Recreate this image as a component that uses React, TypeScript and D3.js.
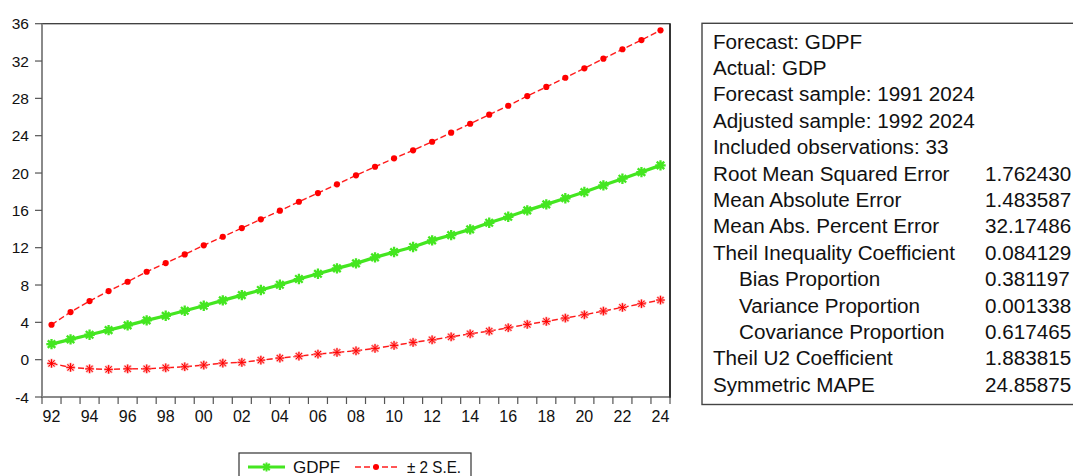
import React from 'react';
import * as d3 from 'd3';

// ---------- data ----------
const years = [
  1992, 1993, 1994, 1995, 1996, 1997, 1998, 1999, 2000, 2001, 2002,
  2003, 2004, 2005, 2006, 2007, 2008, 2009, 2010, 2011, 2012, 2013,
  2014, 2015, 2016, 2017, 2018, 2019, 2020, 2021, 2022, 2023, 2024,
];

const gdpf = [
  1.67, 2.17, 2.67, 3.17, 3.67, 4.21, 4.7, 5.24, 5.78, 6.35, 6.92,
  7.46, 8.03, 8.64, 9.2, 9.78, 10.32, 10.96, 11.53, 12.07, 12.78, 13.35,
  13.96, 14.67, 15.31, 16.0, 16.64, 17.29, 17.96, 18.68, 19.39, 20.1, 20.82,
];

const seUpper = [
  3.74, 5.1, 6.28, 7.35, 8.35, 9.42, 10.35, 11.28, 12.25, 13.17, 14.1,
  15.04, 15.96, 16.92, 17.85, 18.79, 19.75, 20.67, 21.57, 22.43, 23.35, 24.32,
  25.28, 26.25, 27.21, 28.25, 29.22, 30.21, 31.22, 32.25, 33.26, 34.25, 35.29,
];

const seLower = [
  -0.4, -0.83, -0.98, -1.04, -0.98, -0.98, -0.87, -0.76, -0.58, -0.37, -0.29,
  -0.05, 0.17, 0.38, 0.6, 0.78, 0.95, 1.21, 1.53, 1.85, 2.13, 2.45,
  2.77, 3.06, 3.42, 3.78, 4.1, 4.46, 4.81, 5.21, 5.6, 5.99, 6.39,
];

const yTicks = [-4, 0, 4, 8, 12, 16, 20, 24, 28, 32, 36];
const xLabelYears = [
  1992, 1994, 1996, 1998, 2000, 2002, 2004, 2006, 2008, 2010, 2012,
  2014, 2016, 2018, 2020, 2022, 2024,
];

const legendLabels = ['GDPF', '\u00B1 2 S.E.'];

const statLabels = [
  'Forecast: GDPF',
  'Actual: GDP',
  'Forecast sample: 1991 2024',
  'Adjusted sample: 1992 2024',
  'Included observations: 33',
  'Root Mean Squared Error',
  'Mean Absolute Error',
  'Mean Abs. Percent Error',
  'Theil Inequality Coefficient',
  'Bias Proportion',
  'Variance Proportion',
  'Covariance Proportion',
  'Theil U2 Coefficient',
  'Symmetric MAPE',
];
const statValues = [
  '', '', '', '', '',
  '1.762430', '1.483587', '32.17486', '0.084129',
  '0.381197', '0.001338', '0.617465', '1.883815', '24.85875',
];
const statIndent = [
  false, false, false, false, false, false, false, false, false,
  true, true, true, false, false,
];

const FONT = '"Liberation Sans", Arial, Helvetica, sans-serif';
const GREEN = '#44e620';
const RED = '#ff0000';

function asterisk(cx: number, cy: number, r: number): string {
  const d = r * 0.72;
  return (
    `M${cx - r},${cy}H${cx + r}` +
    `M${cx},${cy - r}V${cy + r}` +
    `M${cx - d},${cy - d}L${cx + d},${cy + d}` +
    `M${cx - d},${cy + d}L${cx + d},${cy - d}`
  );
}

export default function App() {
  const W = 1073;
  const H = 476;
  const plot = { l: 42, r: 670, t: 23.7, b: 397 };

  const x = d3.scaleBand<number>().domain(years).range([plot.l, plot.r]).padding(0);
  const bw = x.bandwidth();
  const cx = (yr: number) => (x(yr) as number) + bw / 2;
  const y = d3.scaleLinear().domain([-4, 36]).range([plot.b, plot.t]);

  const lineGen = d3
    .line<number>()
    .x((_, i) => cx(years[i]))
    .y((d) => y(d));

  const boundaries = years.map((yr) => x(yr) as number).concat([plot.r]);

  // stats box
  const box = { l: 702, t: 23.3, b: 404.5 };
  const rowBase0 = 48.5;
  const rowStep = 26.4;
  const sx = 1.06;

  return (
    <svg
      width={W}
      height={H}
      style={{ position: 'absolute', left: 0, top: 0, background: '#fff' }}
      fontFamily={FONT}
    >
      <rect x={0} y={0} width={W} height={H} fill="#fff" />

      {/* plot frame */}
      <rect
        x={plot.l}
        y={plot.t}
        width={plot.r - plot.l}
        height={plot.b - plot.t}
        fill="#fff"
        stroke="#3a3a3a"
        strokeWidth={1.3}
      />
      {/* left & bottom axes (gray) */}
      <line x1={plot.l} y1={plot.t} x2={plot.l} y2={plot.b + 1} stroke="#8a8a8a" strokeWidth={2} />
      <line x1={plot.l - 1} y1={plot.b} x2={plot.r} y2={plot.b} stroke="#8a8a8a" strokeWidth={2} />
      <line x1={plot.r} y1={plot.t} x2={plot.r} y2={plot.b + 1} stroke="#222" strokeWidth={1.6} />

      {/* y ticks */}
      {yTicks.map((t) => (
        <g key={'yt' + t}>
          <line x1={plot.l - 7} x2={plot.l} y1={y(t)} y2={y(t)} stroke="#555" strokeWidth={1.2} />
          <text
            x={29}
            y={y(t)}
            dy="0.36em"
            textAnchor="end"
            fontSize={15.5}
            fill="#111"
          >
            {String(t)}
          </text>
        </g>
      ))}

      {/* x ticks at period boundaries */}
      {boundaries.map((bx, i) => (
        <line
          key={'xt' + i}
          x1={bx}
          x2={bx}
          y1={plot.b}
          y2={plot.b + 7}
          stroke="#555"
          strokeWidth={1.2}
        />
      ))}
      {xLabelYears.map((yr) => (
        <text
          key={'xl' + yr}
          x={cx(yr)}
          y={421.5}
          textAnchor="middle"
          fontSize={16}
          fill="#111"
        >
          {String(yr % 100).padStart(2, '0')}
        </text>
      ))}

      {/* upper S.E. band: dashed red with dots */}
      <path
        d={lineGen(seUpper) || ''}
        fill="none"
        stroke="#ff7a7a"
        strokeWidth={1.6}
        strokeDasharray="6,3"
      />
      <path
        d={lineGen(seUpper) || ''}
        fill="none"
        stroke={RED}
        strokeWidth={0.9}
        strokeDasharray="6,3"
      />
      {seUpper.map((v, i) => (
        <circle key={'u' + i} cx={cx(years[i])} cy={y(v)} r={3.1} fill={RED} />
      ))}

      {/* lower S.E. band: dashed red with asterisks */}
      <path
        d={lineGen(seLower) || ''}
        fill="none"
        stroke="#ff7a7a"
        strokeWidth={1.6}
        strokeDasharray="6,3"
      />
      <path
        d={lineGen(seLower) || ''}
        fill="none"
        stroke={RED}
        strokeWidth={0.9}
        strokeDasharray="6,3"
      />
      {seLower.map((v, i) => (
        <g key={'l' + i}>
          <path d={asterisk(cx(years[i]), y(v), 4.6)} stroke="#ff9a9a" strokeWidth={2.2} fill="none" />
          <path d={asterisk(cx(years[i]), y(v), 4.2)} stroke={RED} strokeWidth={1} fill="none" />
        </g>
      ))}

      {/* forecast GDPF: solid green with asterisks */}
      <path d={lineGen(gdpf) || ''} fill="none" stroke={GREEN} strokeWidth={3.2} />
      {gdpf.map((v, i) => (
        <path
          key={'g' + i}
          d={asterisk(cx(years[i]), y(v), 5.2)}
          stroke={GREEN}
          strokeWidth={2.3}
          fill="none"
        />
      ))}

      {/* legend */}
      <rect x={239} y={453} width={232} height={40} fill="#fff" stroke="#333" strokeWidth={1.2} />
      <line x1={248} x2={285} y1={467} y2={467} stroke={GREEN} strokeWidth={3} />
      <path d={asterisk(266.5, 467, 4.5)} stroke={GREEN} strokeWidth={2} fill="none" />
      <text x={293} y={473} fontSize={17} fill="#111">
        {legendLabels[0]}
      </text>
      <line x1={355} x2={397} y1={467} y2={467} stroke="#ff7a7a" strokeWidth={1.6} strokeDasharray="6,3" />
      <line x1={355} x2={397} y1={467} y2={467} stroke={RED} strokeWidth={0.9} strokeDasharray="6,3" />
      <circle cx={376} cy={467} r={3} fill={RED} />
      <text x={407} y={473} fontSize={17} fill="#111" textLength={54} lengthAdjust="spacingAndGlyphs">
        {legendLabels[1]}
      </text>

      {/* statistics box */}
      <rect
        x={box.l}
        y={box.t}
        width={W - box.l + 20}
        height={box.b - box.t}
        fill="#fff"
        stroke="#444"
        strokeWidth={1.4}
      />
      {statLabels.map((lab, i) => {
        const ty = rowBase0 + i * rowStep;
        const lx = statIndent[i] ? 739 : 713;
        return (
          <g key={'s' + i}>
            <text transform={`translate(${lx},${ty}) scale(${sx},1)`} fontSize={19.5} fill="#111">
              {lab}
            </text>
            {statValues[i] ? (
              <text transform={`translate(985,${ty}) scale(${sx},1)`} fontSize={19.5} fill="#111">
                {statValues[i]}
              </text>
            ) : null}
          </g>
        );
      })}
    </svg>
  );
}
